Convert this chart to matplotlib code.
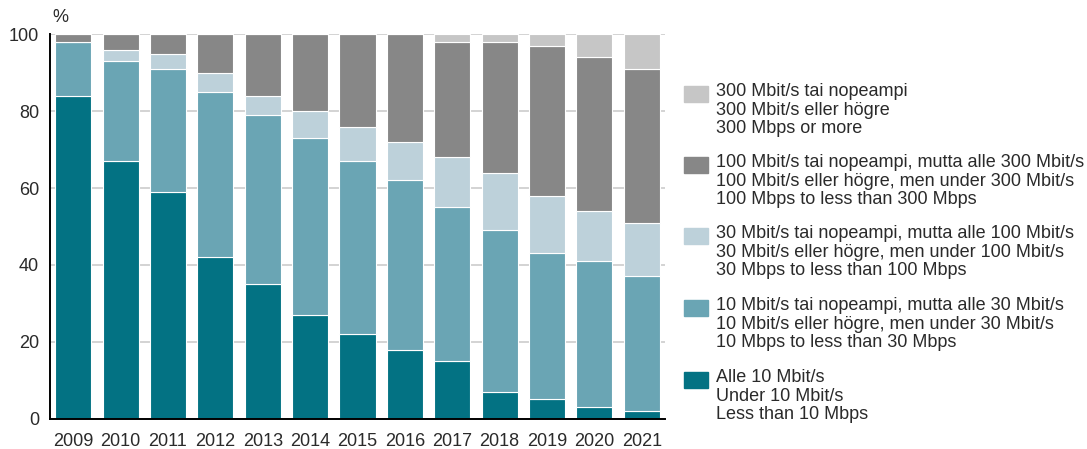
import matplotlib.pyplot as plt
from matplotlib.patches import Rectangle

plt.rcParams['font.family'] = ['Liberation Sans', 'DejaVu Sans']

years = ['2009', '2010', '2011', '2012', '2013', '2014', '2015',
         '2016', '2017', '2018', '2019', '2020', '2021']

# share of connections (%) in each speed band, bottom to top
under_10 = [84, 67, 59, 42, 35, 27, 22, 18, 15, 7, 5, 3, 2]
from_10_to_30 = [14, 26, 32, 43, 44, 46, 45, 44, 40, 42, 38, 38, 35]
from_30_to_100 = [0, 3, 4, 5, 5, 7, 9, 10, 13, 15, 15, 13, 14]
from_100_to_300 = [2, 4, 5, 10, 16, 20, 24, 28, 30, 34, 39, 40, 40]
over_300 = [0, 0, 0, 0, 0, 0, 0, 0, 2, 2, 3, 6, 9]

series = [under_10, from_10_to_30, from_30_to_100, from_100_to_300, over_300]
colors = ['#037283', '#6aa5b4', '#bdd1da', '#878787', '#c6c6c6']
labels = [
    'Alle 10 Mbit/s\nUnder 10 Mbit/s\nLess than 10 Mbps',
    '10 Mbit/s tai nopeampi, mutta alle 30 Mbit/s\n10 Mbit/s eller högre, men under 30 Mbit/s\n10 Mbps to less than 30 Mbps',
    '30 Mbit/s tai nopeampi, mutta alle 100 Mbit/s\n30 Mbit/s eller högre, men under 100 Mbit/s\n30 Mbps to less than 100 Mbps',
    '100 Mbit/s tai nopeampi, mutta alle 300 Mbit/s\n100 Mbit/s eller högre, men under 300 Mbit/s\n100 Mbps to less than 300 Mbps',
    '300 Mbit/s tai nopeampi\n300 Mbit/s eller högre\n300 Mbps or more',
]

W, H = 1087, 449
fig = plt.figure(figsize=(W / 100, H / 100), dpi=100)
ax = fig.add_axes([50 / W, (H - 418.7) / H, 615 / W, 384.4 / H])

x = list(range(len(years)))
bottom = [0] * len(years)
for vals, col in zip(series, colors):
    ax.bar(x, vals, width=0.76, bottom=bottom, color=col,
           edgecolor='white', linewidth=0.8, zorder=2)
    bottom = [b + v for b, v in zip(bottom, vals)]

ax.set_xlim(-0.49, len(years) - 0.51)
ax.set_ylim(0, 100)
ax.set_yticks([0, 20, 40, 60, 80, 100])
ax.set_xticks(x)
ax.set_xticklabels(years)
ax.tick_params(length=0, labelsize=13, colors='#2a2a2a')
ax.tick_params(axis='x', pad=10)
ax.tick_params(axis='y', pad=8)
ax.yaxis.grid(True, color='#cccccc', linewidth=1.2, zorder=0)
ax.set_axisbelow(True)
for s in ['top', 'right']:
    ax.spines[s].set_visible(False)
for s in ['left', 'bottom']:
    ax.spines[s].set_linewidth(1.4)
    ax.spines[s].set_color('black')
    ax.spines[s].set_zorder(3)

fig.text(52 / W, 1 - 17 / H, '%', fontsize=13, color='#2a2a2a', va='center')

# legend, top entry first
tops = [86, 157, 228, 300, 372]
for top, col, lab in zip(tops, colors[::-1], labels[::-1]):
    fig.add_artist(Rectangle((684 / W, 1 - (top + 16) / H), 24 / W, 16 / H,
                             transform=fig.transFigure, color=col))
    fig.text(716 / W, 1 - (top - 3) / H, lab, fontsize=13, color='#2a2a2a',
             va='top', ha='left', linespacing=1.13)

fig.savefig('out.png', dpi=100)
